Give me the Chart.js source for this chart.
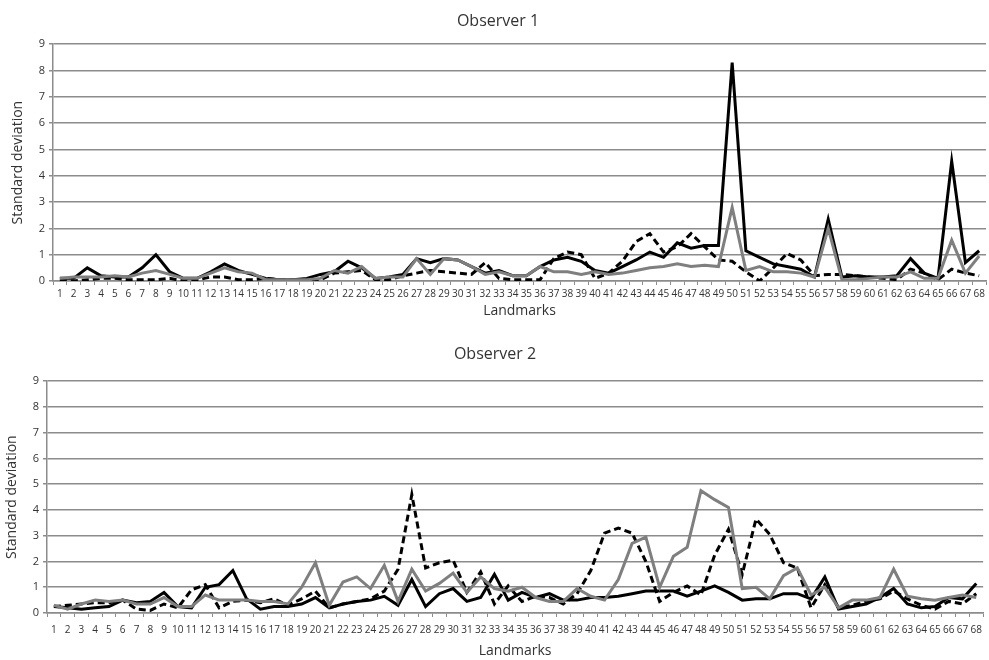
<!DOCTYPE html>
<html lang="en">
<head>
  <meta charset="UTF-8">
  <title>Standard deviation per landmark</title>
  <style>
    body {
      margin: 0;
      background: #fff;
      font-family: "Open Sans", Arial, sans-serif;
    }
    canvas {
      display: block;
    }
  </style>
</head>
<body>
  <canvas id="chart1" width="989" height="326"></canvas>
  <canvas id="chart2" width="989" height="334"></canvas>

  <script src="https://cdn.jsdelivr.net/npm/chart.js"></script>
  <script>
    const landmarks = [];
    for (let i = 1; i <= 68; i++) landmarks.push(String(i));

    // Observer 1
    const obs1Black = [0.1, 0.1, 0.5, 0.2, 0.15, 0.15, 0.5, 1.0, 0.35, 0.1,
      0.1, 0.35, 0.65, 0.4, 0.25, 0.1, 0.05, 0.05, 0.1, 0.25,
      0.35, 0.75, 0.5, 0.1, 0.15, 0.25, 0.85, 0.7, 0.85, 0.8,
      0.55, 0.3, 0.4, 0.2, 0.2, 0.55, 0.8, 0.9, 0.75, 0.4,
      0.3, 0.55, 0.8, 1.1, 0.9, 1.45, 1.25, 1.35, 1.35, 8.3,
      1.15, 0.9, 0.65, 0.55, 0.45, 0.15, 2.35, 0.15, 0.2, 0.15,
      0.15, 0.2, 0.85, 0.3, 0.1, 4.55, 0.7, 1.15];
    const obs1Grey = [0.1, 0.15, 0.15, 0.15, 0.2, 0.15, 0.3, 0.4, 0.25, 0.1,
      0.1, 0.3, 0.5, 0.35, 0.3, 0.05, 0.05, 0.05, 0.05, 0.1,
      0.4, 0.3, 0.55, 0.1, 0.15, 0.15, 0.85, 0.25, 0.85, 0.8,
      0.55, 0.25, 0.35, 0.2, 0.2, 0.55, 0.35, 0.35, 0.25, 0.35,
      0.25, 0.3, 0.4, 0.5, 0.55, 0.65, 0.55, 0.6, 0.55, 2.8,
      0.4, 0.55, 0.35, 0.35, 0.3, 0.15, 2.0, 0.05, 0.05, 0.1,
      0.15, 0.15, 0.35, 0.1, 0.1, 1.55, 0.3, 0.95];
    const obs1Dashed = [0.0, 0.0, 0.05, 0.1, 0.1, 0.05, 0.05, 0.05, 0.1, 0.0,
      0.05, 0.15, 0.15, 0.05, 0.05, 0.1, 0.05, 0.05, 0.0, 0.05,
      0.3, 0.35, 0.4, 0.05, 0.05, 0.2, 0.3, 0.4, 0.35, 0.3,
      0.25, 0.7, 0.1, 0.05, 0.05, 0.05, 0.85, 1.1, 1.0, 0.1,
      0.3, 0.75, 1.5, 1.8, 1.1, 1.3, 1.8, 1.3, 0.8, 0.75,
      0.35, 0.0, 0.5, 1.05, 0.8, 0.2, 0.25, 0.25, 0.2, 0.15,
      0.1, 0.05, 0.45, 0.3, 0.05, 0.45, 0.3, 0.2];

    // Observer 2
    const obs2Black = [0.25, 0.2, 0.15, 0.2, 0.25, 0.5, 0.4, 0.45, 0.8, 0.25,
      0.2, 1.0, 1.1, 1.65, 0.55, 0.15, 0.25, 0.25, 0.35, 0.6,
      0.2, 0.35, 0.45, 0.5, 0.65, 0.3, 1.3, 0.25, 0.75, 0.95,
      0.45, 0.6, 1.5, 0.5, 0.8, 0.6, 0.75, 0.5, 0.5, 0.6,
      0.6, 0.65, 0.75, 0.85, 0.85, 0.85, 0.65, 0.85, 1.05, 0.8,
      0.5, 0.55, 0.55, 0.75, 0.75, 0.55, 1.4, 0.15, 0.25, 0.35,
      0.6, 0.95, 0.35, 0.2, 0.25, 0.6, 0.55, 1.15];
    const obs2Grey = [0.3, 0.15, 0.35, 0.5, 0.45, 0.5, 0.35, 0.35, 0.6, 0.25,
      0.25, 0.7, 0.5, 0.5, 0.5, 0.45, 0.45, 0.35, 1.0, 1.95,
      0.3, 1.2, 1.4, 0.95, 1.85, 0.45, 1.7, 0.85, 1.15, 1.55,
      0.8, 1.4, 0.95, 0.85, 1.0, 0.6, 0.45, 0.45, 0.95, 0.65,
      0.5, 1.3, 2.7, 2.95, 1.0, 2.2, 2.55, 4.75, 4.4, 4.1,
      0.95, 1.0, 0.55, 1.45, 1.75, 0.7, 1.0, 0.2, 0.5, 0.5,
      0.6, 1.7, 0.65, 0.55, 0.5, 0.6, 0.7, 0.6];
    const obs2Dashed = [0.25, 0.3, 0.35, 0.4, 0.4, 0.5, 0.15, 0.1, 0.35, 0.2,
      0.9, 1.1, 0.2, 0.45, 0.5, 0.4, 0.55, 0.3, 0.55, 0.85,
      0.2, 0.35, 0.45, 0.55, 0.85, 1.7, 4.6, 1.75, 1.95, 2.05,
      0.8, 1.6, 0.35, 1.05, 0.45, 0.65, 0.6, 0.35, 0.75, 1.65,
      3.1, 3.3, 3.1, 2.0, 0.45, 0.8, 1.05, 0.7, 2.25, 3.25,
      1.5, 3.65, 3.05, 1.95, 1.75, 0.2, 1.1, 0.2, 0.3, 0.45,
      0.55, 0.85, 0.55, 0.3, 0.15, 0.45, 0.35, 0.75];

    const gridGrey = '#8c8c8c';
    const textGrey = '#333';

    // box = title paddings, x axis height, paddings, y axis width, x tick padding
    function makeChart(canvasId, titleText, black, grey, dashed, box) {
      const ctx = document.getElementById(canvasId).getContext('2d');
      return new Chart(ctx, {
        type: 'line',
        data: {
          labels: landmarks,
          datasets: [
            { data: grey, borderColor: '#7f7f7f', borderWidth: 3 },
            { data: dashed, borderColor: '#000', borderWidth: 3, borderDash: [7, 4] },
            { data: black, borderColor: '#000', borderWidth: 3 }
          ]
        },
        options: {
          responsive: false,
          animation: false,
          elements: {
            point: { radius: 0 },
            line: { tension: 0, borderJoinStyle: 'miter' }
          },
          layout: { padding: { left: box.leftPad, right: 3, top: 0, bottom: box.bottomPad } },
          plugins: {
            legend: { display: false },
            tooltip: { enabled: false },
            title: {
              display: true,
              text: titleText,
              color: textGrey,
              font: { family: 'Open Sans', size: 16, weight: 'normal' },
              padding: { top: box.titleTop, bottom: box.titleBottom }
            }
          },
          scales: {
            x: {
              offset: true,
              grid: {
                display: true,
                drawOnChartArea: false,
                color: gridGrey,
                tickLength: 4,
                offset: true
              },
              border: { color: gridGrey, width: 1.5 },
              ticks: {
                autoSkip: false,
                maxRotation: 0,
                minRotation: 0,
                color: textGrey,
                padding: box.tickPad,
                font: { family: 'Open Sans', size: 10 }
              },
              title: {
                display: true,
                text: 'Landmarks',
                color: textGrey,
                padding: { top: 1, bottom: 0 },
                font: { family: 'Open Sans', size: 14 }
              },
              afterFit: scale => { scale.height = box.xHeight; }
            },
            y: {
              min: 0,
              max: 9,
              ticks: {
                stepSize: 1,
                color: textGrey,
                padding: 4,
                font: { family: 'Open Sans', size: 11 }
              },
              grid: {
                color: gridGrey,
                lineWidth: 1.5,
                tickLength: 4
              },
              border: { color: gridGrey, width: 1.5 },
              title: {
                display: true,
                text: 'Standard deviation',
                color: textGrey,
                padding: { top: 0, bottom: 2 },
                font: { family: 'Open Sans', size: 14 }
              },
              afterFit: scale => { scale.width = box.yWidth; }
            }
          }
        }
      });
    }

    makeChart('chart1', 'Observer 1', obs1Black, obs1Grey, obs1Dashed,
      { titleTop: 12, titleBottom: 13, xHeight: 38, bottomPad: 7, leftPad: 10, yWidth: 43, tickPad: 3 });
    makeChart('chart2', 'Observer 2', obs2Black, obs2Grey, obs2Dashed,
      { titleTop: 19, titleBottom: 17, xHeight: 46, bottomPad: 1, leftPad: 4, yWidth: 43, tickPad: 7 });
  </script>
</body>
</html>
